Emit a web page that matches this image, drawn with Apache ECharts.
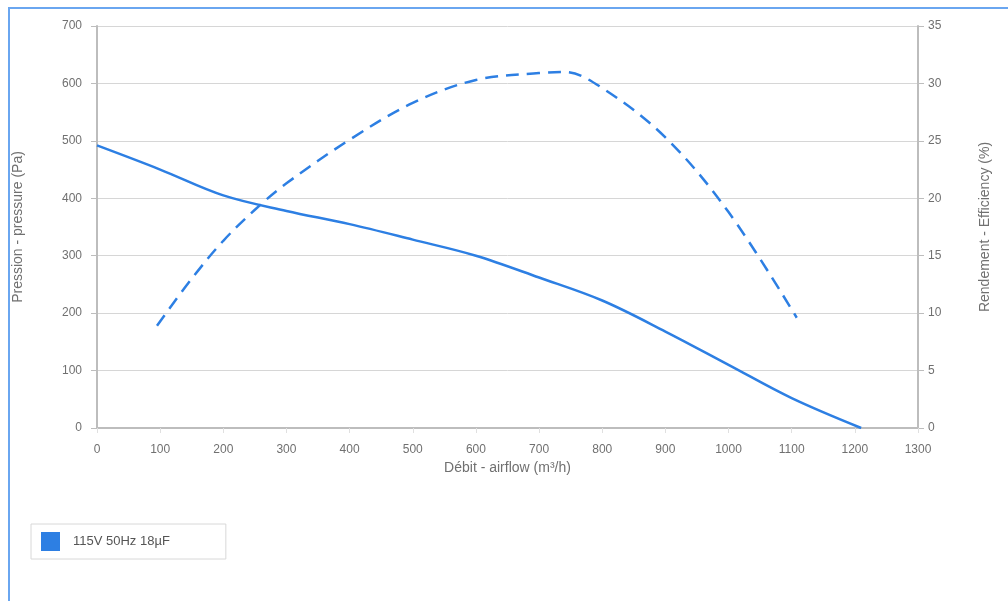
<!DOCTYPE html>
<html><head><meta charset="utf-8">
<script src="https://cdn.jsdelivr.net/npm/echarts@6/dist/echarts.min.js"></script>
<style>
html,body{margin:0;padding:0;background:#fff;}
#frame{position:absolute;left:8px;top:7px;width:1010px;height:610px;border-left:2px solid #6aa6f0;border-top:2px solid #6aa6f0;box-sizing:border-box;}
#c{position:absolute;left:0;top:0;width:1008px;height:601px;}
</style></head>
<body>
<div id="frame"></div>
<div id="c"></div>
<script>
var xTicks = [0,100,200,300,400,500,600,700,800,900,1000,1100,1200,1300];
var pressureX = [0,100,200,300,400,500,600,700,800,900,1000,1100,1210];
var pressureY = [492,450,405,378,355,328,300,262,222,168,110,52,0];
var effX = [95,150,200,250,300,400,500,600,700,740,800,900,1000,1108];
var effY = [8.9,13,16.3,19,21.3,25.1,28.3,30.3,30.9,31,29.6,25.3,18.8,9.6];
var seriesName = '115V 50Hz 18µF';

function pairs(xs, ys){ return xs.map(function(x,i){return [x, ys[i]];}); }

var chart = echarts.init(document.getElementById('c'));
var txt = '#707070';
var font = 'Liberation Sans, Arial, sans-serif';
chart.setOption({
  animation:false,
  textStyle:{fontFamily:font},
  grid:{left:97, right:90, top:26, bottom:173},
  legend:{
    left:31, top:524, orient:'horizontal',
    data:[{name:seriesName, icon:'rect'}],
    itemWidth:19, itemHeight:19, itemGap:10,
    padding:[8,56,8,10],
    borderColor:'#d8d8d8', borderWidth:1,
    textStyle:{color:'#555', fontSize:13, fontFamily:font, padding:[0,0,4,8]}
  },
  xAxis:{
    type:'value', min:0, max:1300, interval:100,
    name:'Débit - airflow (m³/h)', nameLocation:'middle', nameGap:33,
    nameTextStyle:{color:txt, fontSize:14, fontFamily:font},
    axisLine:{lineStyle:{color:'#bdbdbd', width:2}},
    axisTick:{show:true, length:5, lineStyle:{color:'#e0e0e0'}},
    axisLabel:{color:txt, fontSize:12, margin:16, formatter:function(v){return String(v);}},
    splitLine:{show:false}
  },
  yAxis:[{
    type:'value', min:0, max:700, interval:100, position:'left',
    name:'Pression - pressure (Pa)', nameLocation:'middle', nameGap:72,
    nameTextStyle:{color:txt, fontSize:14, fontFamily:font},
    axisLine:{show:true, lineStyle:{color:'#bdbdbd', width:2}},
    axisTick:{show:true, length:6, lineStyle:{color:'#bdbdbd'}},
    axisLabel:{color:txt, fontSize:12, margin:15},
    splitLine:{show:true, lineStyle:{color:'#d6d6d6', width:1}}
  },{
    type:'value', min:0, max:35, interval:5, position:'right',
    name:'Rendement - Efficiency (%)', nameLocation:'middle', nameGap:60, nameRotate:90,
    nameTextStyle:{color:txt, fontSize:14, fontFamily:font},
    axisLine:{show:true, lineStyle:{color:'#bdbdbd', width:2}},
    axisTick:{show:true, length:6, lineStyle:{color:'#bdbdbd'}},
    axisLabel:{color:txt, fontSize:12, margin:10},
    splitLine:{show:false}
  }],
  series:[{
    name:seriesName, type:'line', yAxisIndex:0, smooth:0.35, showSymbol:false,
    data:pairs(pressureX, pressureY),
    itemStyle:{color:'#2d7fe3'},
    lineStyle:{color:'#2d7fe3', width:2.5}
  },{
    name:seriesName, type:'line', yAxisIndex:1, smooth:0.35, showSymbol:false,
    data:pairs(effX, effY),
    itemStyle:{color:'#2d7fe3'},
    lineStyle:{color:'#2d7fe3', width:2.5, type:[13,8]}
  }]
});
</script>
</body></html>
